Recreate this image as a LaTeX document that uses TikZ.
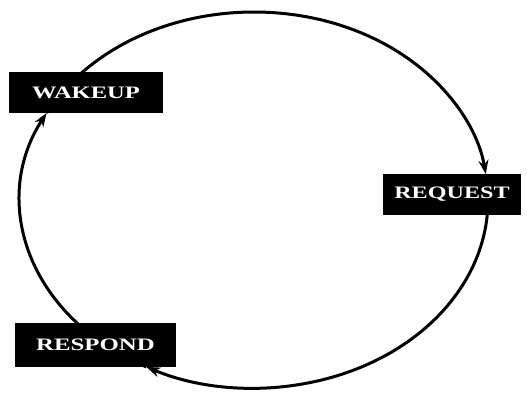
\documentclass[tikz,border=0pt]{standalone}
\usepackage{fontspec}
\setmainfont{Liberation Serif}
\usetikzlibrary{arrows.meta,calc}
\begin{document}
\begin{tikzpicture}[x=1pt,y=1pt,
  statebox/.style={fill=black, draw=none, inner sep=0pt, text=white,
    font=\fontsize{17.5}{17.5}\selectfont\bfseries},
  ring/.style={line width=3pt},
  cycle/.style={ring, -{Stealth[length=14pt,width=10pt]}}]
  \useasboundingbox (0,0) rectangle (527,392);
  \fill[white] (0,0) rectangle (527,392);
  % centre of the cycle ellipse
  \coordinate (c) at (254,192);
  % where the ellipse meets the edges of the boxes
  \coordinate (wOut) at ($(c)+(137.1:234 and 188)$);
  \coordinate (rIn)  at ($(c)+(7.9:234 and 188)$);
  \coordinate (rOut) at ($(c)+(-4.6:234 and 188)$);
  \coordinate (pIn)  at ($(c)+(-117.4:234 and 188)$);
  \coordinate (pOut) at ($(c)+(220.9:234 and 188)$);
  \coordinate (wIn)  at ($(c)+(152.4:234 and 188)$);
  % cycle arcs (clockwise)
  \draw[cycle] (wOut) arc[start angle=137.1, end angle=7.9, x radius=234, y radius=188];
  \draw[cycle] (rOut) arc[start angle=-4.6, end angle=-117.4, x radius=234, y radius=188];
  \draw[cycle] (pOut) arc[start angle=220.9, end angle=152.4, x radius=234, y radius=188];
  % segments hidden under the boxes
  \draw[ring] (wIn) arc[start angle=152.4, end angle=137.1, x radius=234, y radius=188];
  \draw[ring] (rIn) arc[start angle=7.9, end angle=-4.6, x radius=234, y radius=188];
  \draw[ring] (pIn) arc[start angle=-117.4, end angle=-139.1, x radius=234, y radius=188];
  % state boxes
  \node[statebox, minimum width=154, minimum height=41] (wake) at (86,299.5)
    {\scalebox{1.4}[1]{WAKEUP}};
  \node[statebox, minimum width=138, minimum height=41] (req) at (452,197.5)
    {\scalebox{1.38}[1]{REQUEST}};
  \node[statebox, minimum width=161, minimum height=44] (resp) at (95.5,47)
    {\scalebox{1.42}[1]{RESPOND}};
\end{tikzpicture}
\end{document}
